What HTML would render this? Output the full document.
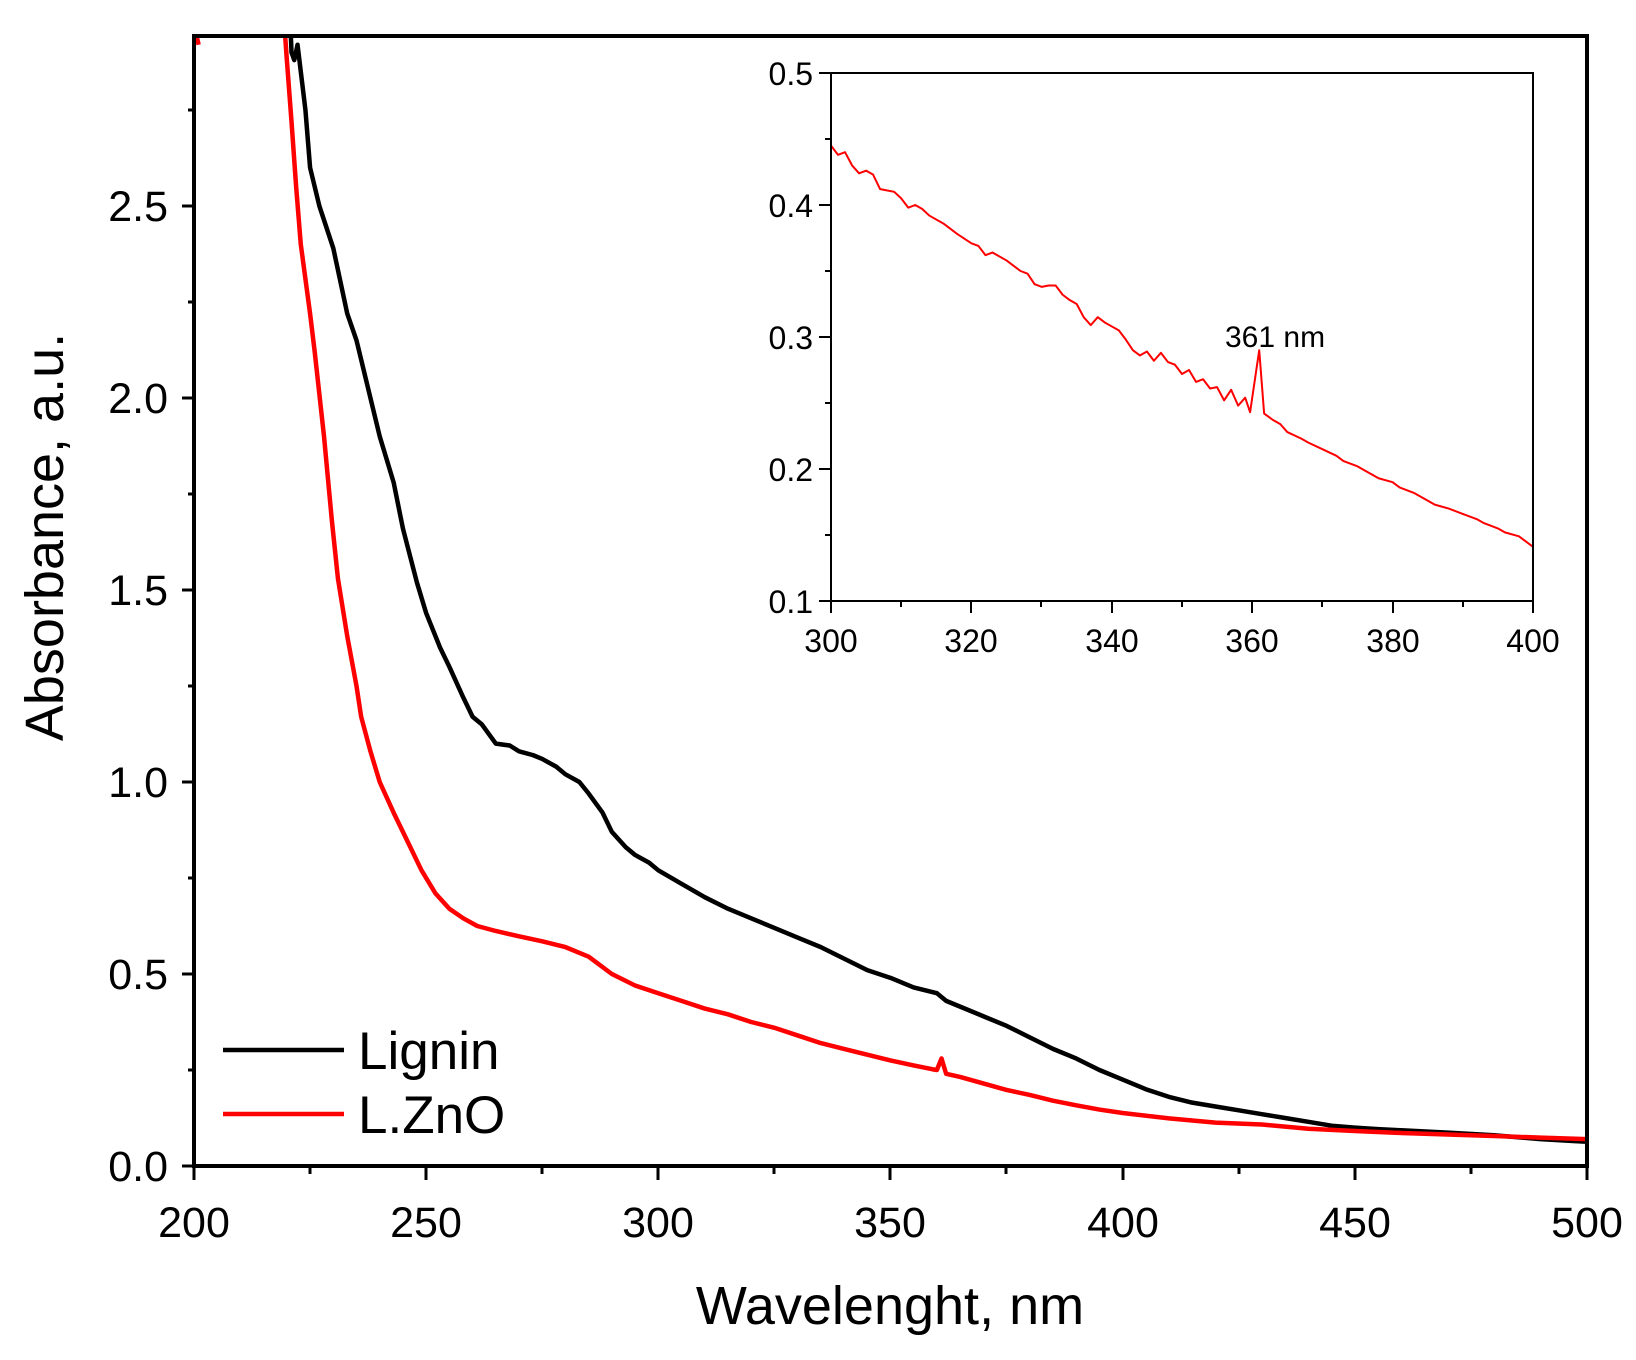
<!DOCTYPE html>
<html><head><meta charset="utf-8"><style>
body{margin:0;background:#fff}
text{font-family:"Liberation Sans",Arial,sans-serif;fill:#000}
</style></head><body>
<svg width="1636" height="1355" xmlns="http://www.w3.org/2000/svg">
<rect width="1636" height="1355" fill="#fff"/>
<defs><clipPath id="c"><rect x="194" y="36" width="1393" height="1130"/></clipPath>
<clipPath id="c2"><rect x="831" y="73" width="702" height="528"/></clipPath></defs>
<g clip-path="url(#c)">
<g transform="matrix(4.643 0 0 -384 -734.6 1166)" fill="none" stroke-linejoin="round">
<polyline vector-effect="non-scaling-stroke" stroke="#000" stroke-width="4.5" points="220.5,3.05 221,2.9 221.6,2.88 222.3,2.92 223,2.85 224,2.75 225,2.6 227,2.5 230,2.39 233,2.22 235,2.15 238,2.0 240,1.9 243,1.78 245,1.66 248,1.52 250,1.44 253,1.35 255,1.3 258,1.22 260,1.17 262,1.15 265,1.1 268,1.095 270,1.08 273,1.07 275,1.06 278,1.04 280,1.02 283,1.0 285,0.97 288,0.92 290,0.87 293,0.83 295,0.81 298,0.79 300,0.77 305,0.735 310,0.70 315,0.67 320,0.645 325,0.62 330,0.595 335,0.57 340,0.54 345,0.51 350,0.49 355,0.465 360,0.45 362,0.43 365,0.415 370,0.39 375,0.365 380,0.335 385,0.305 390,0.28 395,0.25 400,0.225 405,0.2 410,0.18 415,0.165 420,0.155 425,0.145 430,0.135 435,0.125 440,0.115 445,0.105 450,0.10 455,0.096 460,0.093 470,0.087 480,0.08 490,0.07 500,0.063"/>
<polyline vector-effect="non-scaling-stroke" stroke="#f00" stroke-width="4.5" points="219,3.05 220,2.88 221,2.72 222,2.55 223,2.4 225,2.22 226,2.12 228,1.9 229.7,1.68 231,1.53 233,1.38 235,1.25 236,1.17 238,1.08 240,1.0 243,0.92 246,0.845 249,0.77 252,0.71 255,0.67 258,0.645 261,0.625 265,0.612 270,0.598 275,0.585 280,0.57 285,0.545 290,0.50 295,0.47 300,0.45 305,0.43 310,0.41 315,0.395 320,0.375 325,0.36 330,0.34 335,0.32 340,0.305 345,0.29 350,0.275 355,0.262 359,0.252 360,0.25 361,0.28 362,0.24 365,0.232 370,0.215 375,0.198 380,0.185 385,0.17 390,0.158 395,0.147 400,0.138 410,0.124 420,0.113 430,0.108 440,0.097 450,0.091 460,0.086 470,0.082 480,0.078 490,0.074 500,0.07"/>
<polyline vector-effect="non-scaling-stroke" stroke="#f00" stroke-width="4.5" points="200,3.0 200.4,2.95 201,2.92"/>
</g></g>
<rect x="194" y="36" width="1393" height="1130" fill="none" stroke="#000" stroke-width="4"/>
<g stroke="#000" stroke-width="3">
<path d="M182 1166H194M182 974H194M182 782H194M182 590H194M182 398H194M182 206H194"/>
<path d="M188 1070H194M188 878H194M188 686H194M188 494H194M188 302H194M188 110H194"/>
<path d="M194 1166V1180M426 1166V1180M658 1166V1180M890 1166V1180M1123 1166V1180M1355 1166V1180M1587 1166V1180"/>
<path d="M310 1166V1174M542 1166V1174M774 1166V1174M1006 1166V1174M1239 1166V1174M1471 1166V1174"/>
</g>
<g font-size="43" text-anchor="end">
<text x="168" y="1181">0.0</text><text x="168" y="989">0.5</text><text x="168" y="797">1.0</text>
<text x="168" y="605">1.5</text><text x="168" y="413">2.0</text><text x="168" y="221">2.5</text>
</g>
<g font-size="43" text-anchor="middle">
<text x="194" y="1237">200</text><text x="426" y="1237">250</text><text x="658" y="1237">300</text>
<text x="890" y="1237">350</text><text x="1123" y="1237">400</text><text x="1355" y="1237">450</text><text x="1587" y="1237">500</text>
</g>
<text x="890" y="1324" font-size="54" text-anchor="middle">Wavelenght, nm</text>
<text transform="translate(63 537) rotate(-90)" font-size="54" text-anchor="middle">Absorbance, a.u.</text>
<line x1="223" y1="1050" x2="344" y2="1050" stroke="#000" stroke-width="4.5"/>
<line x1="223" y1="1114" x2="344" y2="1114" stroke="#f00" stroke-width="4.5"/>
<text x="358" y="1069" font-size="53">Lignin</text>
<text x="358" y="1133" font-size="53">L.ZnO</text>
<g clip-path="url(#c2)">
<g transform="matrix(7.02 0 0 -1320 -1275 733)" fill="none">
<polyline vector-effect="non-scaling-stroke" stroke="#f00" stroke-width="2" stroke-linejoin="round" points="300,0.445 301,0.438 302,0.44 303,0.43 304,0.424 305,0.426 306,0.423 307,0.412 309,0.41 310,0.405 311,0.398 312,0.4 313,0.397 314,0.392 316,0.386 318,0.378 320,0.371 321,0.369 322,0.362 323,0.364 325,0.358 327,0.35 328,0.348 329,0.34 330,0.338 331,0.339 332,0.339 333,0.332 334,0.328 335,0.325 336,0.315 337,0.309 338,0.315 339,0.311 340,0.308 341,0.305 342,0.298 343,0.29 344,0.286 345,0.289 346,0.282 347,0.288 348,0.281 349,0.279 350,0.272 351,0.275 352,0.266 353,0.268 354,0.261 355,0.262 356,0.252 357,0.26 358,0.248 359,0.254 359.7,0.243 361,0.29 361.7,0.242 363,0.237 364,0.234 365,0.228 367,0.223 368,0.22 370,0.215 372,0.21 373,0.206 375,0.202 376,0.199 378,0.193 380,0.19 381,0.186 383,0.182 385,0.176 386,0.173 388,0.17 390,0.166 392,0.162 393,0.159 395,0.155 396,0.152 398,0.149 399,0.145 400,0.141"/>
</g></g>
<rect x="831" y="73" width="702" height="528" fill="none" stroke="#000" stroke-width="2"/>
<g stroke="#000" stroke-width="2">
<path d="M819 73H831M819 205H831M819 337H831M819 469H831M819 601H831"/>
<path d="M825 139H831M825 271H831M825 403H831M825 535H831"/>
<path d="M831 601V613M971 601V613M1112 601V613M1252 601V613M1393 601V613M1533 601V613"/>
<path d="M901 601V607M1041 601V607M1182 601V607M1322 601V607M1463 601V607"/>
</g>
<g font-size="32" text-anchor="end">
<text x="813" y="85">0.5</text><text x="813" y="217">0.4</text><text x="813" y="349">0.3</text>
<text x="813" y="481">0.2</text><text x="813" y="613">0.1</text>
</g>
<g font-size="32" text-anchor="middle">
<text x="831" y="652">300</text><text x="971" y="652">320</text><text x="1112" y="652">340</text>
<text x="1252" y="652">360</text><text x="1393" y="652">380</text><text x="1533" y="652">400</text>
</g>
<text x="1225" y="347" font-size="30">361 nm</text>
</svg>
</body></html>
